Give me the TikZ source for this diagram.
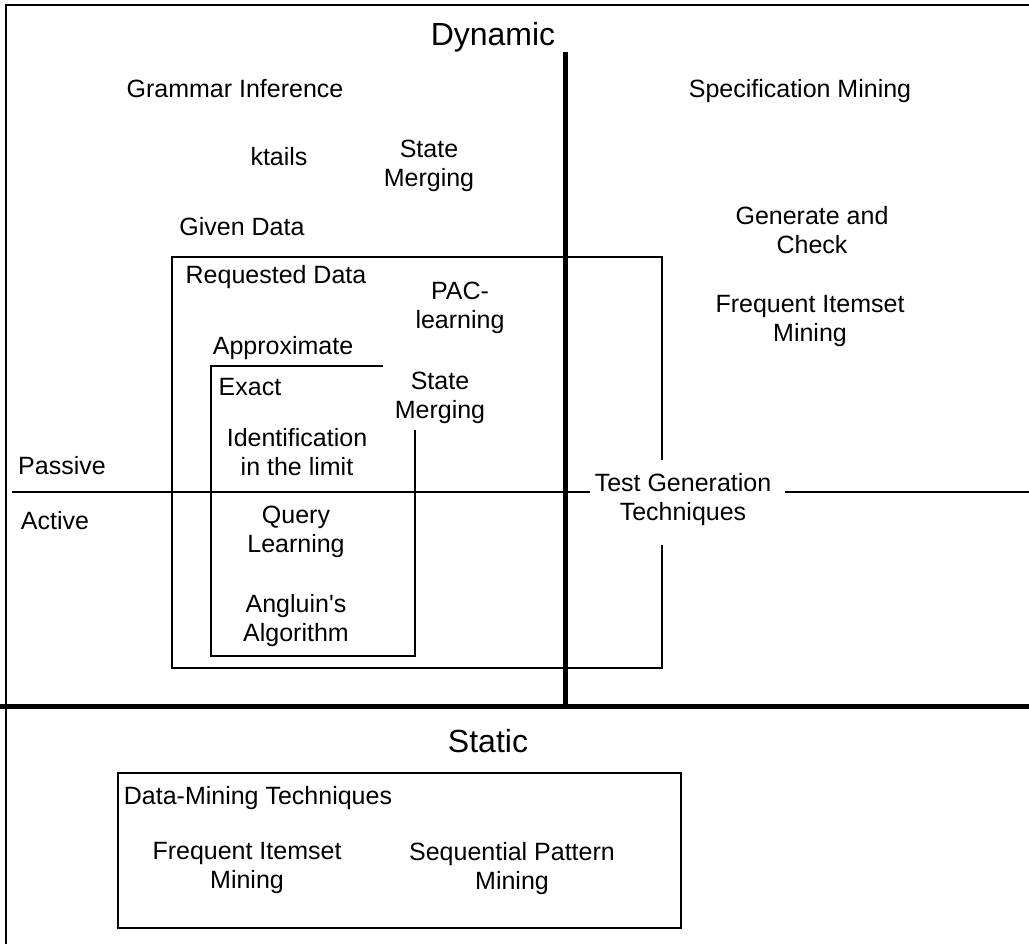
\documentclass[tikz,border=0pt]{standalone}
\usepackage{fontspec}
\setmainfont{Liberation Sans}
\usepackage{tikz}

\tikzset{
  lbl/.style={align=center, inner sep=0pt, font=\fontsize{25}{29}\selectfont},
  biglbl/.style={inner sep=0pt, font=\fontsize{32}{38}\selectfont},
  box/.style={line width=2pt},
  axis/.style={line width=5pt},
}

\begin{document}
\begin{tikzpicture}[x=1pt,y=-1pt]
\useasboundingbox (0,0) rectangle (1029,944);
\draw[line width=2.5pt] (6,944) -- (6,5) -- (1029,5);

% Axes
\node[biglbl,anchor=base] (dyn) at (493,46) {Dynamic};
\node[biglbl,anchor=base] (stat) at (488,752) {Static};
\draw[axis] (565,52) -- (565,706);
\draw[axis] (0,706) -- (1029,706);

\node[lbl,anchor=base] (pas) at (62,474) {Passive};
\node[lbl,anchor=base] (act) at (55,529) {Active};
\node[lbl] (tg) at (683,500) {Test Generation\\Techniques};
\coordinate (pa) at (12,492);
\coordinate (pb) at (1029,492);
\draw[box] (pa) -- ([xshift=-5pt]tg.west |- pa);
\draw[box] ([xshift=14pt]tg.east |- pb) -- (pb);

% Dynamic, left
\node[lbl,anchor=base] (gi) at (235,98) {Grammar Inference};
\node[lbl,anchor=base] (kt) at (279,166) {ktails};
\node[lbl] (sm1) at (429,166) {State\\Merging};
\node[lbl,anchor=base] (gd) at (242,236) {Given Data};

\draw[box] (662,460) -- (662,257) -- (172,257) -- (172,668) -- (662,668) -- (662,545);
\node[lbl,anchor=base] (rd) at (276,284) {Requested Data};
\node[lbl] (pac) at (460,308) {PAC-\\learning};
\node[lbl,anchor=base] (apx) at (283,355) {Approximate};

\draw[box] (383,366) -- (211,366) -- (211,656) -- (415,656) -- (415,430);
\node[lbl,anchor=base] (ex) at (250,395) {Exact};
\node[lbl] (sm2) at (440,398) {State\\Merging};
\node[lbl] (idl) at (297,452) {Identification\\in the limit};
\node[lbl] (ql) at (296,532) {Query\\Learning};
\node[lbl] (ang) at (296,621) {Angluin\textquotesingle s\\Algorithm};

% Dynamic, right
\node[lbl,anchor=base] (sp) at (800,98) {Specification Mining};
\node[lbl] (gc) at (812,230) {Generate and\\Check};
\node[lbl] (fim1) at (810,321) {Frequent Itemset\\Mining};

% Static
\draw[box] (118,773) rectangle (681,928);
\node[lbl,anchor=base] (dm) at (258,804) {Data-Mining Techniques};
\node[lbl] (fim2) at (247,868) {Frequent Itemset\\Mining};
\node[lbl] (seq) at (512,869) {Sequential Pattern\\Mining};
\end{tikzpicture}
\end{document}
